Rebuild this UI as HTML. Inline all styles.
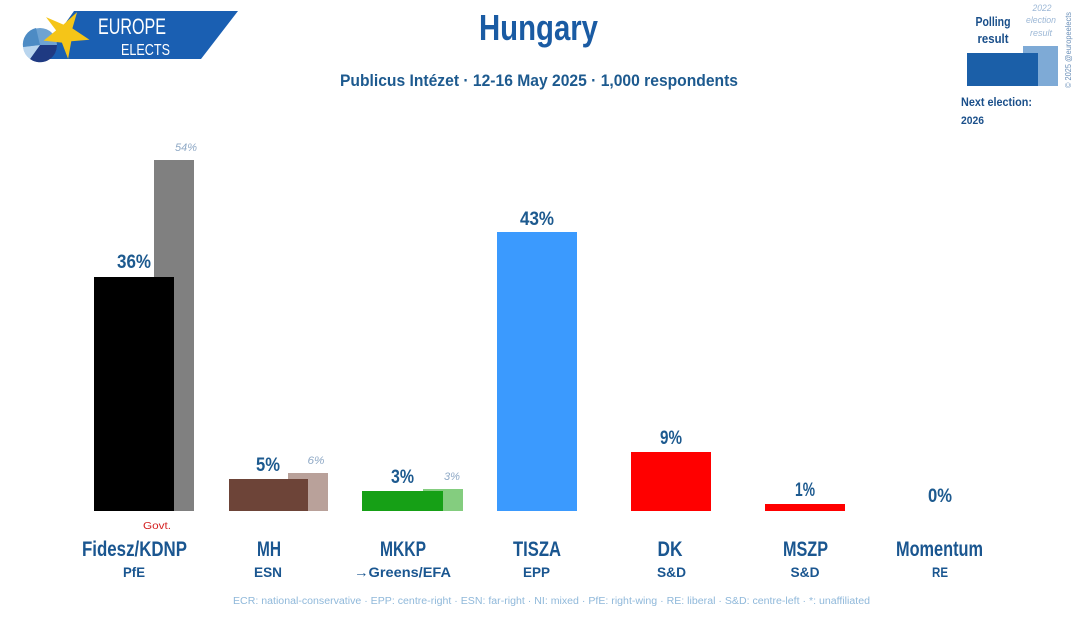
<!DOCTYPE html>
<html>
<head>
<meta charset="utf-8">
<style>
html,body{margin:0;padding:0;background:#fff;}
svg{display:block;}
text{font-family:"Liberation Sans",sans-serif;}
</style>
</head>
<body>
<svg width="1080" height="622" viewBox="0 0 1080 622" xmlns="http://www.w3.org/2000/svg">
<rect x="0" y="0" width="1080" height="622" fill="#fff"/>

<!-- Logo -->
<polygon points="74,11 238,11 201,59 40,59" fill="#1a5fb2"/>
<circle cx="40" cy="45" r="17" fill="#6fa3d2"/>
<path d="M40,45 L57,45 A17,17 0 0 1 30,59 Z" fill="#1f3a82"/>
<path d="M40,45 L30,59 A17,17 0 0 1 23,47 Z" fill="#b9d5ee"/>
<path d="M40,45 L23,47 A17,17 0 0 1 36,28 Z" fill="#4d8bc4"/>
<polygon points="77.1,12.1 72.4,28.4 89.5,39.8 71.3,41.2 68.1,58.9 61.9,42.6 43.6,40.6 56.1,30.4 46.0,17.1 63.4,24.6" fill="#f5c518" transform="rotate(0)"/>
<text x="98" y="34" font-size="22" fill="#fff" textLength="68" lengthAdjust="spacingAndGlyphs">EUROPE</text>
<text x="121" y="55" font-size="16" fill="#fff" textLength="49" lengthAdjust="spacingAndGlyphs">ELECTS</text>

<!-- Title -->
<text x="538.5" y="40" font-size="36" font-weight="bold" fill="#1a5ba3" text-anchor="middle" textLength="119" lengthAdjust="spacingAndGlyphs">Hungary</text>
<text x="539" y="86" font-size="17" font-weight="bold" fill="#1d5a8f" text-anchor="middle" textLength="398" lengthAdjust="spacingAndGlyphs">Publicus Intézet · 12-16 May 2025 · 1,000 respondents</text>

<!-- Legend -->
<text x="993" y="26" font-size="13" font-weight="bold" fill="#1a4f8a" text-anchor="middle" textLength="35" lengthAdjust="spacingAndGlyphs">Polling</text>
<text x="993" y="43" font-size="13" font-weight="bold" fill="#1a4f8a" text-anchor="middle" textLength="31" lengthAdjust="spacingAndGlyphs">result</text>
<text x="1042" y="11" font-size="9" font-style="italic" fill="#9db8d6" text-anchor="middle" textLength="19" lengthAdjust="spacingAndGlyphs">2022</text>
<text x="1041" y="23" font-size="9" font-style="italic" fill="#9db8d6" text-anchor="middle" textLength="30" lengthAdjust="spacingAndGlyphs">election</text>
<text x="1041" y="36" font-size="9" font-style="italic" fill="#9db8d6" text-anchor="middle" textLength="22" lengthAdjust="spacingAndGlyphs">result</text>
<rect x="1023" y="46" width="35" height="40" fill="#7eaad6"/>
<rect x="967" y="53" width="71" height="33" fill="#1b5fa8"/>
<text transform="translate(1071,88) rotate(-90)" font-size="8" fill="#6a8fb8" textLength="76" lengthAdjust="spacingAndGlyphs">© 2025 @europeelects</text>
<text x="961" y="106" font-size="12" font-weight="bold" fill="#1a4f8a" textLength="71" lengthAdjust="spacingAndGlyphs">Next election:</text>
<text x="961" y="124" font-size="11" font-weight="bold" fill="#1a4f8a" textLength="23" lengthAdjust="spacingAndGlyphs">2026</text>

<!-- Bars -->
<rect x="154" y="160" width="40" height="351" fill="#808080"/>
<rect x="94" y="277" width="80" height="234" fill="#000"/>
<rect x="288" y="473" width="40" height="38" fill="#b9a19a"/>
<rect x="229" y="479" width="79" height="32" fill="#6d4438"/>
<rect x="423" y="489" width="40" height="22" fill="#84cd7f"/>
<rect x="362" y="491" width="81" height="20" fill="#16a016"/>
<rect x="497" y="232" width="80" height="279" fill="#3b9afe"/>
<rect x="631" y="452" width="80" height="59" fill="#ff0000"/>
<rect x="765" y="504" width="80" height="7" fill="#ff0000"/>

<!-- Previous result labels -->
<g font-size="11" font-style="italic" fill="#8fa9c6" text-anchor="middle">
<text x="186" y="151" textLength="22" lengthAdjust="spacingAndGlyphs">54%</text>
<text x="316" y="464" textLength="17" lengthAdjust="spacingAndGlyphs">6%</text>
<text x="452" y="480" textLength="16" lengthAdjust="spacingAndGlyphs">3%</text>
</g>

<!-- Value labels -->
<g font-size="19" font-weight="bold" fill="#1d5a8f" text-anchor="middle">
<text x="134" y="268" textLength="34" lengthAdjust="spacingAndGlyphs">36%</text>
<text x="268" y="471" textLength="24" lengthAdjust="spacingAndGlyphs">5%</text>
<text x="402.5" y="483" textLength="23" lengthAdjust="spacingAndGlyphs">3%</text>
<text x="537" y="225" textLength="34" lengthAdjust="spacingAndGlyphs">43%</text>
<text x="671" y="444" textLength="22" lengthAdjust="spacingAndGlyphs">9%</text>
<text x="805" y="496" textLength="20" lengthAdjust="spacingAndGlyphs">1%</text>
<text x="940" y="502" textLength="24" lengthAdjust="spacingAndGlyphs">0%</text>
</g>

<text x="157" y="529" font-size="10" fill="#d42020" text-anchor="middle" textLength="28" lengthAdjust="spacingAndGlyphs">Govt.</text>

<!-- Party names -->
<g font-size="21" font-weight="bold" fill="#1a5690" text-anchor="middle">
<text x="134.5" y="556" textLength="105" lengthAdjust="spacingAndGlyphs">Fidesz/KDNP</text>
<text x="269" y="556" textLength="24" lengthAdjust="spacingAndGlyphs">MH</text>
<text x="403" y="556" textLength="46" lengthAdjust="spacingAndGlyphs">MKKP</text>
<text x="537" y="556" textLength="48" lengthAdjust="spacingAndGlyphs">TISZA</text>
<text x="670" y="556" textLength="25" lengthAdjust="spacingAndGlyphs">DK</text>
<text x="805.5" y="556" textLength="45" lengthAdjust="spacingAndGlyphs">MSZP</text>
<text x="939.5" y="556" textLength="87" lengthAdjust="spacingAndGlyphs">Momentum</text>
</g>
<g font-size="14" font-weight="bold" fill="#1a5690" text-anchor="middle">
<text x="134" y="577" textLength="22" lengthAdjust="spacingAndGlyphs">PfE</text>
<text x="268" y="577" textLength="28" lengthAdjust="spacingAndGlyphs">ESN</text>
<text x="402.5" y="577" textLength="97" lengthAdjust="spacingAndGlyphs">→Greens/EFA</text>
<text x="536.5" y="577" textLength="27" lengthAdjust="spacingAndGlyphs">EPP</text>
<text x="671.5" y="577" textLength="29" lengthAdjust="spacingAndGlyphs">S&amp;D</text>
<text x="805" y="577" textLength="29" lengthAdjust="spacingAndGlyphs">S&amp;D</text>
<text x="940" y="577" textLength="16" lengthAdjust="spacingAndGlyphs">RE</text>
</g>

<!-- Footer -->
<text x="551.5" y="604" font-size="10" fill="#8fb8da" text-anchor="middle" textLength="637" lengthAdjust="spacingAndGlyphs">ECR: national-conservative · EPP: centre-right · ESN: far-right · NI: mixed · PfE: right-wing · RE: liberal · S&amp;D: centre-left · *: unaffiliated</text>
</svg>
</body>
</html>
